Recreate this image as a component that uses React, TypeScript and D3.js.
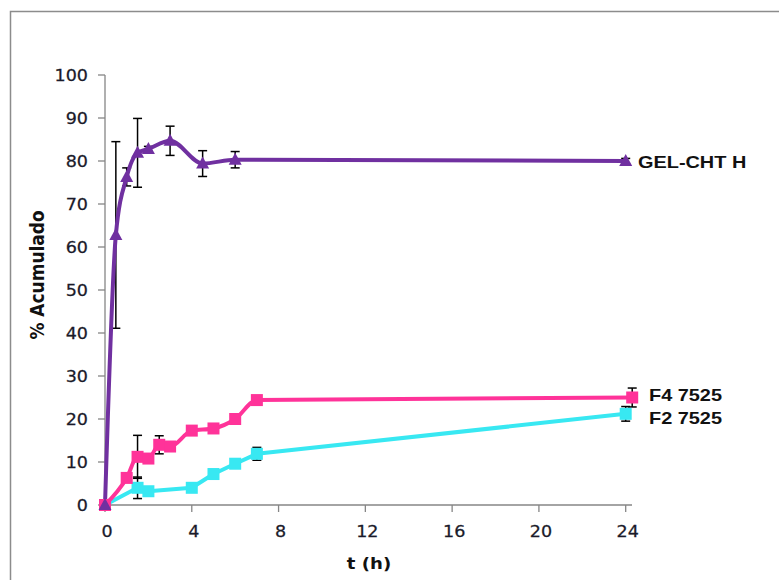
import React from "react";
import * as d3 from "d3";

const xTicks = [0, 4, 8, 12, 16, 20, 24];
const yTicks = [0, 10, 20, 30, 40, 50, 60, 70, 80, 90, 100];

const gelT = [0, 0.5, 1, 1.5, 2, 3, 4.5, 6, 24];
const gelV = [0, 62.8, 76.3, 81.9, 82.8, 84.7, 79.4, 80.3, 80];
const gelErr = [0, 21.7, 2.1, 8, 0.6, 3.4, 3, 1.9, 0.6];

const f4T = [0, 1, 1.5, 2, 2.5, 3, 4, 5, 6, 7, 24.3];
const f4V = [0, 6.3, 11.2, 10.8, 14, 13.6, 17.3, 17.8, 20, 24.4, 25];
const f4Err = [0, 0, 5, 0, 2.1, 0, 0, 0, 0, 0, 2.2];

const f2T = [0, 1.5, 2, 4, 5, 6, 7, 24];
const f2V = [0, 4.0, 3.2, 4.0, 7.2, 9.6, 11.9, 21.2];
const f2Err = [0, 2.5, 0, 0, 0, 0, 1.5, 1.7];

const seriesNames = ["GEL-CHT H", "F4 7525", "F2 7525"];

const W = 779;
const H = 580;
const SX = 1.17;

export default function App() {
  const x = d3.scaleLinear().domain([0, 24]).range([105, 625.7]);
  const y = d3.scaleLinear().domain([0, 100]).range([505, 75]);

  const series = [
    { name: seriesNames[0], t: gelT, v: gelV, e: gelErr, color: "#7030A0", marker: "tri", labelY: 162, curve: d3.curveMonotoneX },
    { name: seriesNames[1], t: f4T, v: f4V, e: f4Err, color: "#FF3399", marker: "sq", labelY: 395, curve: d3.curveMonotoneX },
    { name: seriesNames[2], t: f2T, v: f2V, e: f2Err, color: "#38E8F2", marker: "sq", labelY: 418, curve: d3.curveLinear },
  ];

  const axisColor = "#868686";
  const tickFont = "'DejaVu Sans', Verdana, sans-serif";

  return (
    <svg
      width={W}
      height={H}
      style={{ position: "absolute", left: 0, top: 0, background: "#fff" }}
    >
      <rect x={0} y={0} width={W} height={H} fill="#fff" />
      <path d={`M10.5,${H} V11.5 H${W}`} fill="none" stroke="#8c8c8c" strokeWidth={1.5} />

      <line x1={105} x2={105} y1={75} y2={505} stroke={axisColor} strokeWidth={1.3} />
      <line x1={105} x2={632} y1={505} y2={505} stroke={axisColor} strokeWidth={1.3} />
      {yTicks.map((t) => (
        <g key={"y" + t}>
          <line x1={98} x2={105} y1={y(t)} y2={y(t)} stroke={axisColor} strokeWidth={1.3} />
          <text
            transform={`translate(88,${y(t) + 5.5}) scale(${SX},1)`}
            textAnchor="end"
            fontFamily={tickFont}
            fontSize={15}
            fill="#1a1a2a"
            stroke="#1a1a2a"
            strokeWidth={0.25}
          >
            {t}
          </text>
        </g>
      ))}
      {xTicks.map((t) => (
        <g key={"x" + t}>
          <line x1={x(t)} x2={x(t)} y1={505} y2={512} stroke={axisColor} strokeWidth={1.3} />
          <text
            transform={`translate(${x(t) + 2},${537}) scale(${SX},1)`}
            textAnchor="middle"
            fontFamily={tickFont}
            fontSize={15}
            fill="#1a1a2a"
            stroke="#1a1a2a"
            strokeWidth={0.25}
          >
            {t}
          </text>
        </g>
      ))}

      <text
        transform={`translate(44,275) scale(${SX},1) rotate(-90)`}
        textAnchor="middle"
        fontFamily={tickFont}
        fontWeight="bold"
        fontSize={17}
        fill="#111"
      >
        % Acumulado
      </text>
      <text
        transform={`translate(369,569) scale(${SX},1)`}
        textAnchor="middle"
        fontFamily={tickFont}
        fontWeight="bold"
        fontSize={15.5}
        fill="#111"
      >
        t (h)
      </text>

      {series.map((s) =>
        s.t.map((t, i) =>
          s.e[i] > 0 ? (
            <g key={s.name + "e" + i} stroke="#000" strokeWidth={1.5}>
              <line x1={x(t)} x2={x(t)} y1={y(s.v[i] + s.e[i])} y2={y(s.v[i] - s.e[i])} />
              <line x1={x(t) - 4.5} x2={x(t) + 4.5} y1={y(s.v[i] + s.e[i])} y2={y(s.v[i] + s.e[i])} />
              <line x1={x(t) - 4.5} x2={x(t) + 4.5} y1={y(s.v[i] - s.e[i])} y2={y(s.v[i] - s.e[i])} />
            </g>
          ) : null
        )
      )}

      {[2, 1, 0].map((k) => {
        const s = series[k];
        const pts = s.t.map((t, i) => [t, s.v[i]] as [number, number]);
        const line = d3
          .line<[number, number]>()
          .x((d) => x(d[0]))
          .y((d) => y(d[1]))
          .curve(s.curve);
        return (
          <path
            key={s.name + "l"}
            d={line(pts) || ""}
            fill="none"
            stroke={s.color}
            strokeWidth={4}
            strokeLinejoin="round"
          />
        );
      })}

      {[2, 1, 0].map((k) => {
        const s = series[k];
        return s.t.map((t, i) => {
          const cx = x(t);
          const cy = y(s.v[i]);
          if (s.marker === "sq") {
            return (
              <rect key={s.name + "m" + i} x={cx - 6} y={cy - 6} width={12} height={12} fill={s.color} />
            );
          }
          return (
            <path
              key={s.name + "m" + i}
              d={`M${cx},${cy - 7} L${cx + 6.5},${cy + 5} L${cx - 6.5},${cy + 5} Z`}
              fill={s.color}
            />
          );
        });
      })}

      {series.map((s, k) => (
        <text
          key={s.name + "lab"}
          transform={`translate(${k === 0 ? 638 : 649},${s.labelY + 6}) scale(${SX},1)`}
          fontFamily="'Liberation Sans', Arial, sans-serif"
          fontWeight="bold"
          fontSize={17}
          fill="#111"
        >
          {s.name}
        </text>
      ))}
    </svg>
  );
}
